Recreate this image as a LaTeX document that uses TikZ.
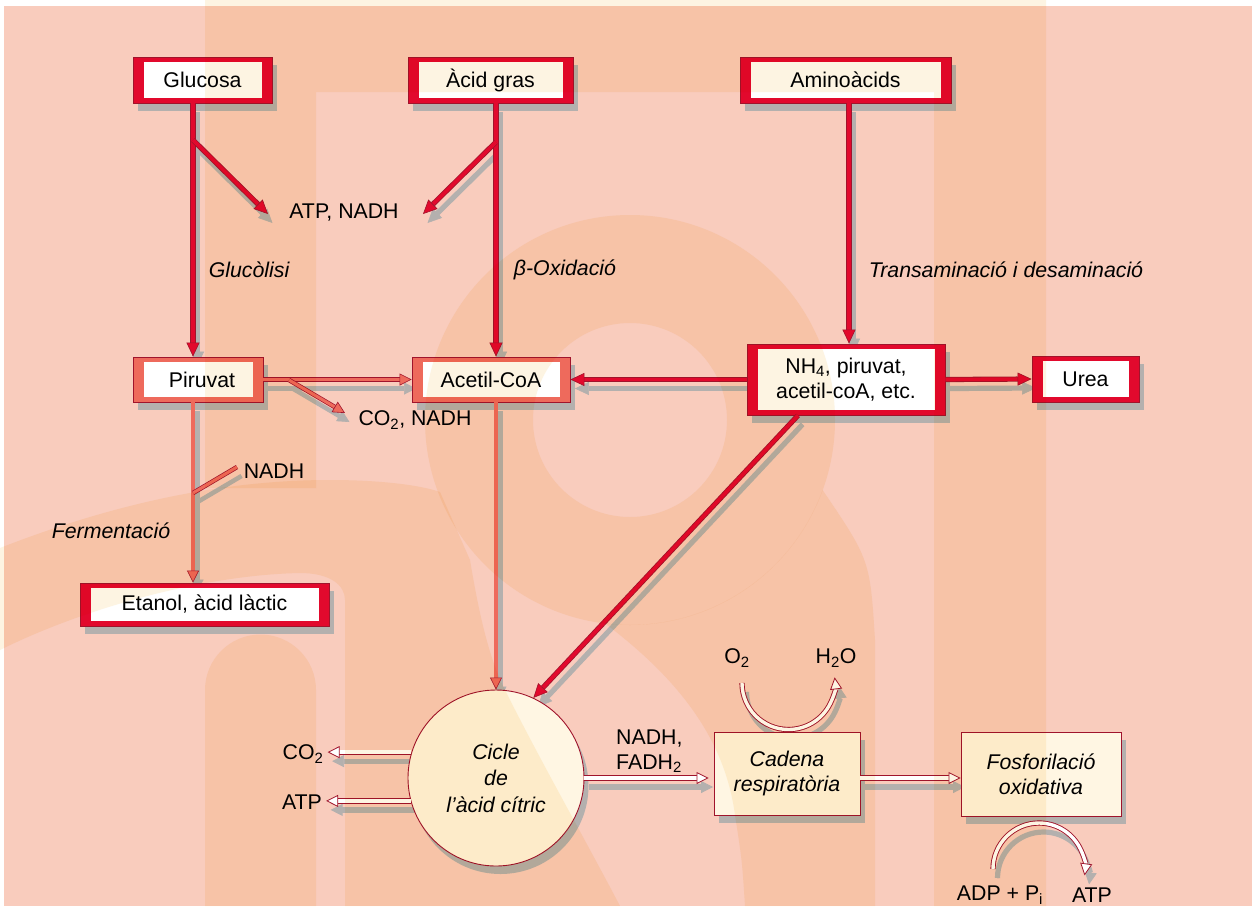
\documentclass[tikz,border=0pt]{standalone}
\usepackage{fontspec}
\setmainfont{Liberation Sans}
\usetikzlibrary{arrows.meta,shadows}

\definecolor{paper}{HTML}{F9CCBD}
\definecolor{tint}{HTML}{FDF4E2}
\definecolor{crimson}{HTML}{E2092D}
\definecolor{darkred}{HTML}{A0142C}
\definecolor{coral}{HTML}{EE6A5C}
\definecolor{pale}{HTML}{FFF6E3}
\definecolor{shade}{HTML}{B4B0AE}

\pgfdeclarelayer{paperlayer}
\pgfdeclarelayer{shadowlayer}
\pgfdeclarelayer{tintlayer}
\pgfsetlayers{paperlayer,shadowlayer,main,tintlayer}

\tikzset{
  txt/.style={font=\fontsize{21.3}{25}\selectfont, inner sep=2pt},
  ittxt/.style={font=\fontsize{21.3}{25}\selectfont\itshape, inner sep=2pt},
  boxshadow/.style={drop shadow={shadow xshift=4.5pt, shadow yshift=-8pt, fill=shade, opacity=1}},
  frame/.style={draw=darkred, line width=0.8pt, inner sep=0pt, boxshadow},
  innerbox/.style={txt, fill=white, inner sep=0pt, align=center},
  stage/.style={draw=darkred, line width=0.9pt, fill=pale, boxshadow, align=center,
    font=\fontsize{21.3}{25}\selectfont\itshape},
  % connector looks
  redline/.style={draw=darkred, line width=0.8pt, double=crimson, double distance=3.6pt},
  redarrow/.style={redline, -{Triangle[length=14pt,width=13pt,line width=0.6pt,color=darkred,fill=crimson]}},
  coralline/.style={draw=darkred, line width=0.7pt, double=coral, double distance=3.1pt},
  coralarrow/.style={coralline, -{Triangle[length=12pt,width=12pt,line width=0.6pt,color=darkred,fill=coral]}},
  openarrow/.style={draw=darkred, line width=0.9pt, double=white, double distance=3.4pt,
    -{Triangle[length=12pt,width=12pt,line width=0.8pt,color=darkred,fill=white]}},
}

% outer coloured frame with a white panel holding the text
\newcommand\framedbox[6]{%
  \node[frame, fill=#5, minimum width=#3, minimum height=#4] (#1) at #2 {};
  \node[innerbox, minimum width=#3-21pt, minimum height=#4-10pt] (#1-t) at #2 {#6};}

% every connector of the scheme
\newcommand\links{%
  \draw[redarrow] (glu.south -| laneG) -- (pir.north -| laneG);
  \draw[redarrow] (gluBr) -- (atpTipA);
  \draw[redarrow] (acg.south -| laneA) -- (ace.north -| laneA);
  \draw[redarrow] (acgBr) -- (atpTipB);
  \draw[redarrow] (ami.south -| laneN) -- (nh.north -| laneN);
  \draw[redarrow] (nh.west) -- (ace.east);
  \draw[redarrow] (nh.east) -- (urea.west);
  \draw[redarrow] (nh.south -| laneD) -- (cic.65);
  \draw[coralarrow] (pir.east) -- (ace.west);
  \draw[coralarrow] (pirBr) -- (co2Tip);
  \draw[coralarrow] (pir.south -| laneG) -- (eta.north -| laneG);
  \draw[coralline] (fermBr) -- (nadhEnd);
  \draw[coralarrow] (ace.south -| laneA) -- (cic.north);
  \draw[openarrow] (cic.163) -- (cic.163 -| co2out.east);
  \draw[openarrow] (cic.195) -- (cic.195 -| atpout.east);
  \draw[openarrow, shorten >=5pt] (cic.east) -- (cic.east -| cad.west);
  \draw[openarrow] (cadOut) -- (cadOut -| fos.west);
  \draw[openarrow] (o2Start) arc[start angle=180, end angle=-7, radius=46.5];
  \draw[openarrow] (adpStart) arc[start angle=180, end angle=368, radius=46];
}

\begin{document}
\begin{tikzpicture}[x=1pt, y=-1pt]
\useasboundingbox (0,0) rectangle (1256,906);

% paper
\begin{pgfonlayer}{paperlayer}
  \fill[white] (0,0) rectangle (1256,906);
  \fill[paper] (4,6) rectangle (1252,906);
\end{pgfonlayer}

% lanes and branch points
\coordinate (laneG) at (193,0);
\coordinate (laneA) at (496,0);
\coordinate (laneN) at (849,0);
\coordinate (laneD) at (798,0);
\coordinate (gluBr) at (193,140);
\coordinate (atpTipA) at (268,214);
\coordinate (acgBr) at (496,142);
\coordinate (atpTipB) at (423,214);
\coordinate (pirBr) at (289,380);
\coordinate (co2Tip) at (345,413);
\coordinate (fermBr) at (193,493);
\coordinate (nadhEnd) at (237,467);
\coordinate (cadOut) at (860,778);
\coordinate (o2Start) at (742,683);
\coordinate (adpStart) at (993,869);

% boxes
\framedbox{glu}{(202.5,80)}{139pt}{46pt}{crimson}{Glucosa}
\framedbox{acg}{(490.5,80)}{165pt}{46pt}{crimson}{Àcid gras}
\framedbox{ami}{(845.5,80)}{211pt}{46pt}{crimson}{Aminoàcids}
\framedbox{pir}{(198,379.5)}{130pt}{45pt}{coral}{\hspace*{8pt}Piruvat}
\framedbox{ace}{(491,379.5)}{158pt}{45pt}{coral}{Acetil-CoA}
\framedbox{nh}{(846,379.5)}{198pt}{71pt}{crimson}{NH\textsubscript{4}, piruvat,\\acetil-coA, etc.}
\framedbox{urea}{(1085.5,379)}{107pt}{46pt}{crimson}{Urea}
\framedbox{eta}{(204.5,604.5)}{249pt}{43pt}{crimson}{Etanol, àcid làctic}

\node[stage, circle, minimum size=176pt, inner sep=0pt, font=\fontsize{21.3}{26.5}\selectfont\itshape]
  (cic) at (496,778) {Cicle\\de\\l’àcid cítric};
\node[stage, minimum width=146pt, minimum height=83pt] (cad) at (787,773.5) {Cadena\\respiratòria};
\node[stage, minimum width=160pt, minimum height=84pt] (fos) at (1041,774) {Fosforilació\\oxidativa};

% labels
\node[txt] (atp1) at (344,213) {ATP, NADH};
\node[ittxt] (glyc) at (249,270) {Glucòlisi};
\node[ittxt] (boxi) at (565,270) {β-Oxidació};
\node[ittxt] (trans) at (1006,270) {Transaminació i desaminació};
\node[txt] (co2n) at (415,420) {CO\textsubscript{2}, NADH};
\node[txt] (nadhf) at (274,471) {NADH};
\node[ittxt] (ferm) at (111,531) {Fermentació};
\node[txt, inner sep=4pt] (co2out) at (303,754) {CO\textsubscript{2}};
\node[txt, inner sep=4pt] (atpout) at (302,802) {ATP};
\node[txt, align=left, anchor=west] (redeq) at (614,751) {NADH,\\FADH\textsubscript{2}};
\node[txt] (o2) at (737,658) {O\textsubscript{2}};
\node[txt] (h2o) at (836,658) {H\textsubscript{2}O};
\node[txt] (adp) at (1000,895) {ADP + P\textsubscript{i}};
\node[txt] (atpend) at (1092,895) {ATP};

% connector shadows
\begin{pgfonlayer}{shadowlayer}
\begin{scope}[transform canvas={shift={(4.5pt,-9pt)}},
  redline/.style={draw=shade, line width=0.8pt, double=shade, double distance=3.6pt},
  redarrow/.style={redline, -{Triangle[length=14pt,width=13pt,line width=0.6pt,color=shade,fill=shade]}},
  coralline/.style={draw=shade, line width=0.7pt, double=shade, double distance=3.1pt},
  coralarrow/.style={coralline, -{Triangle[length=12pt,width=12pt,line width=0.6pt,color=shade,fill=shade]}},
  openarrow/.style={draw=shade, line width=0.9pt, double=shade, double distance=3.4pt,
    -{Triangle[length=12pt,width=12pt,line width=0.8pt,color=shade,fill=shade]}}]
  \links
\end{scope}
\end{pgfonlayer}

\links

% printed watermark, multiplied over the whole sheet
\begin{pgfonlayer}{tintlayer}
\begin{scope}[blend mode=multiply]
  % top bar with the two upright strokes
  \fill[tint] (205,0) -- (1046,0) -- (1046,906) -- (934,906) -- (934,92) -- (316,92)
    -- (316,488) -- (205,488) -- cycle;
  % short stroke rising from the bottom edge
  \fill[tint] (205,906) -- (205,690) arc[start angle=180, end angle=360, radius=55.5]
    -- (316,906) -- cycle;
  % ring
  \fill[tint, even odd rule] (630,420) circle[radius=205] (630,420) circle[radius=97];
  % sweep from the left edge down into the lower stem
  \fill[tint] (0,548) .. controls (110,505) and (220,480) .. (330,480)
    .. controls (380,480) and (420,485) .. (440,492) -- (470,560)
    .. controls (480,620) and (490,660) .. (505,690)
    .. controls (540,760) and (580,830) .. (620,906) -- (345,906) -- (345,600)
    .. controls (345,585) and (330,573) .. (300,573)
    .. controls (200,575) and (80,610) .. (0,650) -- cycle;
  % tail below the ring
  \fill[tint] (822.6,490) arc[start angle=20, end angle=97, radius=205]
    .. controls (680,680) and (725,740) .. (735,815) .. controls (742,860) .. (745,906)
    -- (875,906) -- (875,640) .. controls (870,560) .. (822.6,490) -- cycle;
\end{scope}
\end{pgfonlayer}
\end{tikzpicture}
\end{document}
